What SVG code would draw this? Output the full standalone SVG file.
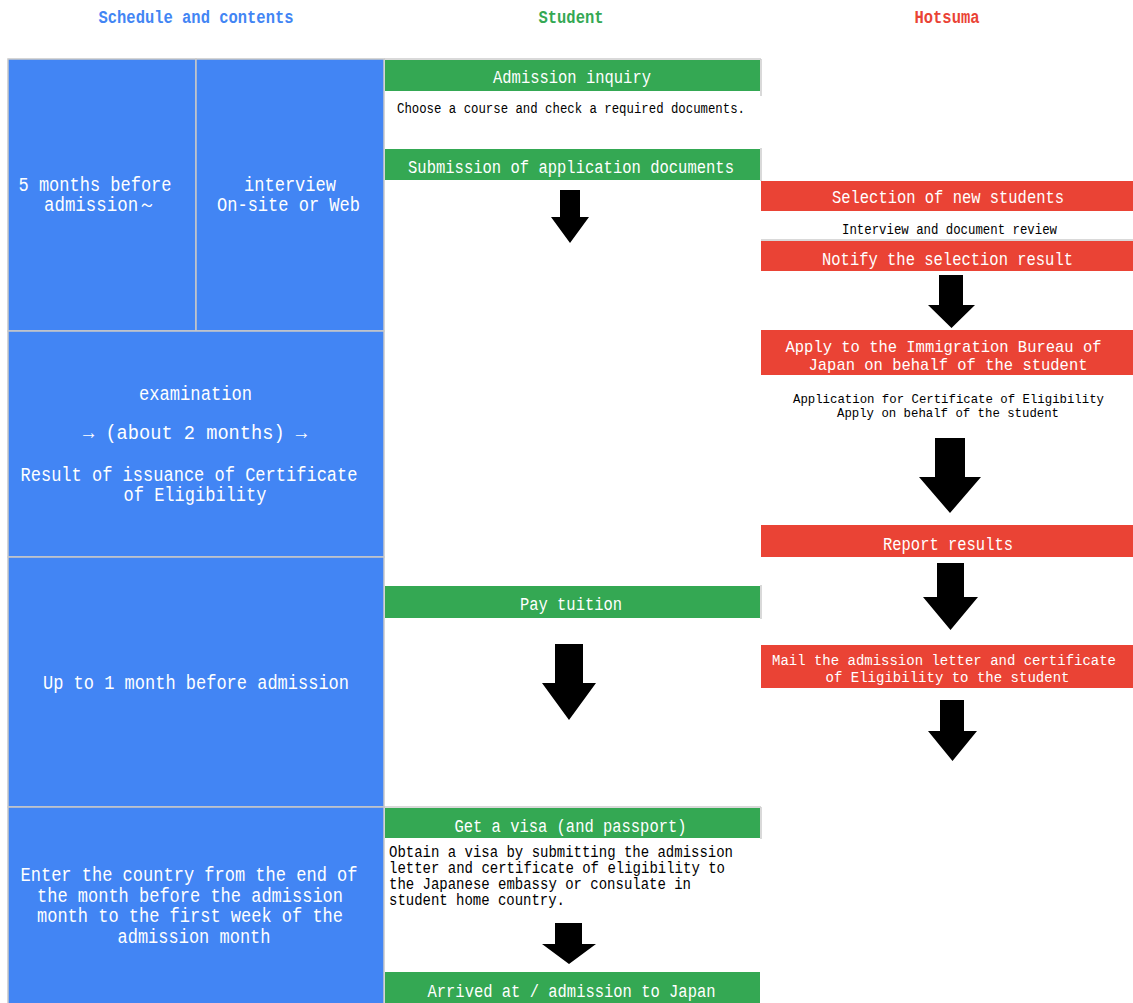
<svg xmlns="http://www.w3.org/2000/svg" width="1133" height="1003" viewBox="0 0 1133 1003">
<style>
text{font-family:"Liberation Mono","DejaVu Sans Mono",monospace;}
.hd{font-size:18px;font-weight:bold;text-anchor:middle;}
.cell{fill:#4285F4;stroke:#c8c8c8;stroke-width:1.5;}
.ct{fill:#fff;font-size:19.5px;text-anchor:middle;}
.gb{fill:#34A853;}
.rb{fill:#EA4335;}
.bt{fill:#fff;font-size:18.5px;text-anchor:middle;}
.bt2{fill:#fff;font-size:17px;text-anchor:middle;}
.mt{fill:#fff;font-size:14.5px;text-anchor:middle;}
.sm{fill:#000;font-size:14px;}
.smc{fill:#000;font-size:14px;text-anchor:middle;}
.smc2{fill:#000;font-size:13.5px;text-anchor:middle;}
.ob{fill:#000;font-size:16px;}
.grid{stroke:#cccccc;stroke-width:1.5;fill:none;}
.arr{fill:#000;}
</style>
<rect width="1133" height="1003" fill="#fff"/>
<g id="headers">
<text class="hd" x="196" y="23" fill="#4285F4" textLength="195" lengthAdjust="spacingAndGlyphs">Schedule and contents</text>
<text class="hd" x="571" y="23" fill="#34A853" textLength="65" lengthAdjust="spacingAndGlyphs">Student</text>
<text class="hd" x="947" y="23" fill="#EA4335" textLength="65" lengthAdjust="spacingAndGlyphs">Hotsuma</text>
</g>
<g id="grid-lines">
<line class="grid" x1="384" y1="59" x2="761" y2="59"/>
<line class="grid" x1="761" y1="59" x2="761" y2="96"/>
<line class="grid" x1="761" y1="148" x2="761" y2="181"/>
<line class="grid" x1="761" y1="240" x2="1133" y2="240"/>
<line class="grid" x1="761" y1="585" x2="761" y2="619"/>
<line class="grid" x1="761" y1="807" x2="761" y2="839"/>
<line class="grid" x1="384" y1="807" x2="761" y2="807"/>
</g>
<g id="cell-5months">
<rect class="cell" x="8" y="59" width="188" height="272"/>
<text class="ct" x="95" y="191" textLength="153" lengthAdjust="spacingAndGlyphs">5 months before</text>
<text class="ct" x="100" y="211" textLength="112" lengthAdjust="spacingAndGlyphs">admission～</text>
</g>
<g id="cell-interview">
<rect class="cell" x="196" y="59" width="188" height="272"/>
<text class="ct" x="290" y="191" textLength="92" lengthAdjust="spacingAndGlyphs">interview</text>
<text class="ct" x="288.5" y="211" textLength="143" lengthAdjust="spacingAndGlyphs">On-site or Web</text>
</g>
<g id="cell-examination">
<rect class="cell" x="8" y="331" width="376" height="226"/>
<text class="ct" x="195.5" y="400" textLength="113" lengthAdjust="spacingAndGlyphs">examination</text>
<text class="ct" x="195" y="439" textLength="224" lengthAdjust="spacingAndGlyphs">→ (about 2 months) →</text>
<text class="ct" x="189" y="481" textLength="337" lengthAdjust="spacingAndGlyphs">Result of issuance of Certificate</text>
<text class="ct" x="195" y="501" textLength="143" lengthAdjust="spacingAndGlyphs">of Eligibility</text>
</g>
<g id="cell-1month">
<rect class="cell" x="8" y="557" width="376" height="250"/>
<text class="ct" x="196" y="689" textLength="306" lengthAdjust="spacingAndGlyphs">Up to 1 month before admission</text>
</g>
<g id="cell-enter">
<rect class="cell" x="8" y="807" width="376" height="200"/>
<text class="ct" x="189" y="881" textLength="337" lengthAdjust="spacingAndGlyphs">Enter the country from the end of</text>
<text class="ct" x="190" y="902" textLength="306" lengthAdjust="spacingAndGlyphs">the month before the admission</text>
<text class="ct" x="190" y="922" textLength="306" lengthAdjust="spacingAndGlyphs">month to the first week of the</text>
<text class="ct" x="194" y="943" textLength="153" lengthAdjust="spacingAndGlyphs">admission month</text>
</g>
<g id="s-inquiry">
<rect class="gb" x="385" y="60" width="375" height="31"/>
<text class="bt" x="572" y="83" textLength="158" lengthAdjust="spacingAndGlyphs">Admission inquiry</text>
<text class="sm" x="397" y="113" textLength="348" lengthAdjust="spacingAndGlyphs">Choose a course and check a required documents.</text>
</g>
<g id="s-submission">
<rect class="gb" x="385" y="149" width="375" height="31"/>
<text class="bt" x="571" y="173" textLength="326" lengthAdjust="spacingAndGlyphs">Submission of application documents</text>
</g>
<g id="s-tuition">
<rect class="gb" x="385" y="586" width="375" height="32"/>
<text class="bt" x="571" y="610" textLength="102" lengthAdjust="spacingAndGlyphs">Pay tuition</text>
</g>
<g id="s-visa">
<rect class="gb" x="385" y="808" width="375" height="30"/>
<text class="bt" x="570.5" y="832" textLength="232" lengthAdjust="spacingAndGlyphs">Get a visa (and passport)</text>
<text class="ob" x="389" y="857" textLength="344" lengthAdjust="spacingAndGlyphs">Obtain a visa by submitting the admission</text>
<text class="ob" x="389" y="873" textLength="336" lengthAdjust="spacingAndGlyphs">letter and certificate of eligibility to</text>
<text class="ob" x="389" y="889" textLength="302" lengthAdjust="spacingAndGlyphs">the Japanese embassy or consulate in</text>
<text class="ob" x="389" y="905" textLength="176" lengthAdjust="spacingAndGlyphs">student home country.</text>
</g>
<g id="s-arrived">
<rect class="gb" x="385" y="972" width="375" height="31"/>
<text class="bt" x="571.5" y="997" textLength="288" lengthAdjust="spacingAndGlyphs">Arrived at / admission to Japan</text>
</g>
<g id="h-selection">
<rect class="rb" x="761" y="181" width="372" height="30"/>
<text class="bt" x="948" y="203" textLength="232" lengthAdjust="spacingAndGlyphs">Selection of new students</text>
<text class="smc" x="949.5" y="234" textLength="215" lengthAdjust="spacingAndGlyphs">Interview and document review</text>
</g>
<g id="h-notify">
<rect class="rb" x="761" y="241" width="372" height="30"/>
<text class="bt" x="947.5" y="265" textLength="251" lengthAdjust="spacingAndGlyphs">Notify the selection result</text>
</g>
<g id="h-apply">
<rect class="rb" x="761" y="330" width="372" height="45"/>
<text class="bt2" x="943.5" y="352" textLength="316" lengthAdjust="spacingAndGlyphs">Apply to the Immigration Bureau of</text>
<text class="bt2" x="948" y="370" textLength="279" lengthAdjust="spacingAndGlyphs">Japan on behalf of the student</text>
<text class="smc2" x="948.5" y="403" textLength="311" lengthAdjust="spacingAndGlyphs">Application for Certificate of Eligibility</text>
<text class="smc2" x="948" y="417" textLength="222" lengthAdjust="spacingAndGlyphs">Apply on behalf of the student</text>
</g>
<g id="h-report">
<rect class="rb" x="761" y="525" width="372" height="32"/>
<text class="bt" x="948" y="550" textLength="130" lengthAdjust="spacingAndGlyphs">Report results</text>
</g>
<g id="h-mail">
<rect class="rb" x="761" y="645" width="372" height="43"/>
<text class="mt" x="944" y="665" textLength="344" lengthAdjust="spacingAndGlyphs">Mail the admission letter and certificate</text>
<text class="mt" x="947.5" y="681.5" textLength="244" lengthAdjust="spacingAndGlyphs">of Eligibility to the student</text>
</g>
<g id="connectors">
<polygon class="arr" points="560,190 580,190 580,217 589,217 570,243 551,217 560,217"/>
<polygon class="arr" points="939,275 963,275 963,305 975,305 951.5,328 928,305 939,305"/>
<polygon class="arr" points="935,438 965,438 965,477 981,477 950,513 919,477 935,477"/>
<polygon class="arr" points="937,563 964,563 964,597 978,597 950.5,630 923,597 937,597"/>
<polygon class="arr" points="940,700 964,700 964,731 977,731 952.5,761 928,731 940,731"/>
<polygon class="arr" points="555,644 583,644 583,683 596,683 569,720 542,683 555,683"/>
<polygon class="arr" points="555,923 582,923 582,944 596,944 569,964 542,944 555,944"/>
</g>
</svg>
